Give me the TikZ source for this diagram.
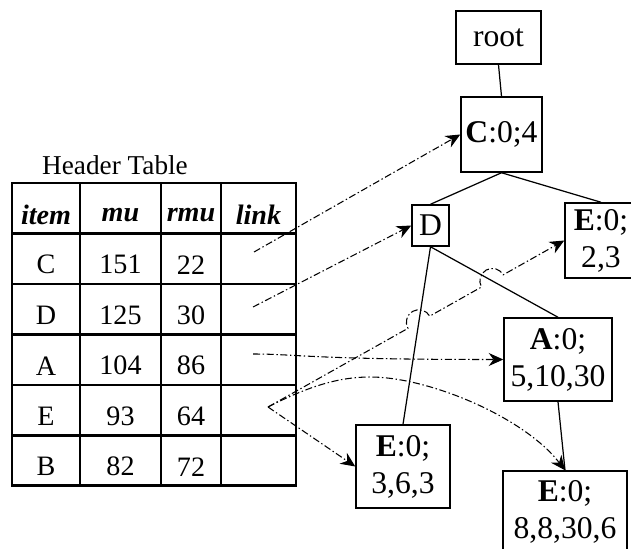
\documentclass[tikz,border=0pt]{standalone}
\usepackage{fontspec}
\setmainfont{Liberation Serif}
\usetikzlibrary{arrows.meta,calc}

\newcommand{\hoprad}{0.25cm}

\begin{document}
\begin{tikzpicture}[x=1cm,y=1cm]
\tikzset{
  treebox/.style={draw,line width=0.85pt,align=center,inner sep=1pt,font=\fontsize{18}{21}\selectfont},
  treeedge/.style={line width=0.7pt},
  linkarrow/.style={-{Stealth[length=2.9mm,width=2.6mm]},line width=0.6pt,
    dash pattern=on 4pt off 1.5pt on 0.8pt off 1.5pt},
  tablerule/.style={line width=1.5pt},
  cell/.style={inner sep=0pt,font=\fontsize{16}{19}\selectfont},
  headcell/.style={cell,font=\fontsize{16}{19}\selectfont\bfseries\itshape}
}
\useasboundingbox (0,0) rectangle (12.62,10.96);
\clip (0,0) rectangle (12.62,10.96);

% header table
\node[font=\fontsize{15.5}{18}\selectfont] (title) at (2.30,7.66) {Header Table};
\draw[tablerule] (0.24,1.25) rectangle (5.92,7.30);
\foreach \xx in {1.60,3.22,4.42}
  \draw[tablerule] (\xx,1.25) -- (\xx,7.30);
\foreach \k in {1,...,5}
  \draw[tablerule] (0.24,7.30-1.01*\k) -- (5.92,7.30-1.01*\k);
\node[headcell] (hd-item) at (0.92,6.66) {item};
\node[headcell] (hd-mu) at (2.41,6.66) {mu};
\node[headcell] (hd-rmu) at (3.82,6.66) {rmu};
\node[headcell] (hd-link) at (5.17,6.66) {link};
\foreach \itm/\mval/\rval [count=\r] in {C/151/22,D/125/30,A/104/86,E/93/64,B/82/72}{
  \node[cell] (itm\r) at (0.92,6.30-1.01*\r+0.375) {\itm};
  \node[cell] (mu\r) at (2.41,6.30-1.01*\r+0.375) {\mval};
  \node[cell] (rmu\r) at (3.82,6.30-1.01*\r+0.375) {\rval};
}
\coordinate (lnkC) at (5.08,5.92);
\coordinate (lnkD) at (5.06,4.82);
\coordinate (lnkA) at (5.06,3.88);
\coordinate (lnkE) at (5.36,2.82);

% tree
\node[treebox,minimum width=1.70cm,minimum height=1.06cm] (root) at (9.97,10.21) {root};
\node[treebox,minimum width=1.62cm,minimum height=1.50cm] (C) at (10.03,8.27) {\textbf{C}:0;4};
\node[treebox,minimum width=0.74cm,minimum height=0.82cm] (D) at (8.61,6.45) {D};
\node[treebox,minimum width=1.44cm,minimum height=1.50cm] (E23) at (12.02,6.15) {\textbf{E}:0;\\2,3};
\node[treebox,minimum width=2.16cm,minimum height=1.66cm] (A) at (11.16,3.77) {\textbf{A}:0;\\5,10,30};
\node[treebox,minimum width=1.88cm,minimum height=1.66cm] (E363) at (8.06,1.63) {\textbf{E}:0;\\3,6,3};
\node[treebox,minimum width=2.48cm,minimum height=1.64cm] (E8830) at (11.30,0.72) {\textbf{E}:0;\\8,8,30,6};

\draw[treeedge] (root.south) -- (C.north);
\draw[treeedge] (C.south) -- (D.north);
\draw[treeedge] (C.south) -- (E23.north);
\draw[treeedge] (D.south) -- (E363.north);
\draw[treeedge] (D.south) -- (A.north);
\draw[treeedge] (A.south) -- (E8830.north);

% node links
\draw[linkarrow] (lnkC) -- (C.west);
\draw[linkarrow] (lnkD) -- (D.west);
\draw[linkarrow] (lnkA) .. controls (5.95,3.88) and (6.15,3.77) .. (A.west);
\draw[linkarrow] (lnkE) -- (E363.west);
\draw[linkarrow] (lnkE) .. controls (6.2,3.25) and (6.8,3.42) .. (7.40,3.42)
  .. controls (8.6,3.42) and (10.5,2.6) .. (E8830.north);
% jumps over the tree edges
\coordinate (hopA) at (intersection of lnkE--E23.west and D.south--E363.north);
\coordinate (hopB) at (intersection of lnkE--E23.west and D.south--A.north);
\draw[linkarrow] (lnkE) -- ($(hopA)!\hoprad!(lnkE)$)
  arc[start angle=209.3,end angle=29.3,radius=\hoprad]
  -- ($(hopB)!\hoprad!(lnkE)$)
  arc[start angle=209.3,end angle=29.3,radius=\hoprad] -- (E23.west);
\end{tikzpicture}
\end{document}
